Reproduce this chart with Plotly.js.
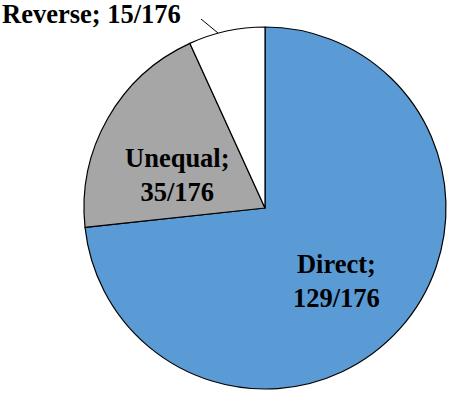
<!DOCTYPE html>
<html>
<head>
<meta charset="utf-8">
<script src="https://cdn.plot.ly/plotly-3.0.1.min.js"></script>
<style>html,body{margin:0;padding:0;background:#fff;}#chart{width:451px;height:394px;}</style>
</head>
<body>
<div id="chart"></div>
<script>
// Slice sizes as drawn in the picture (the wedges sum to 176)
const labels = ["Direct", "Unequal", "Reverse"];
const values = [129, 35, 12];
// Counts as printed in the labels of the picture
const labelCounts = ["129", "35", "15"];
const total = "176";
const colors = ["#5B9BD5", "#A6A6A6", "#FFFFFF"];

const W = 451, H = 394;
const px = x => x / W;
const py = y => 1 - y / H;

const font = {family: "Liberation Serif, Times New Roman, serif", size: 26.5, color: "#000", weight: 700};
const txt = i => labels[i] + ";<br>" + labelCounts[i] + "/" + total;

const trace = {
  type: "pie",
  labels: labels,
  values: values,
  marker: {colors: colors, line: {color: "#000", width: 1.2}},
  sort: false,
  direction: "clockwise",
  rotation: 0,
  textinfo: "none",
  hoverinfo: "none",
  showlegend: false,
  domain: {x: [px(84), px(446)], y: [py(389), py(27)]}
};

const layout = {
  width: W, height: H,
  margin: {l: 0, r: 0, t: 0, b: 0},
  paper_bgcolor: "#fff",
  showlegend: false,
  annotations: [
    {xref: "paper", yref: "paper", x: px(336), y: py(281), text: txt(0), showarrow: false, font: font, xanchor: "center", yanchor: "middle"},
    {xref: "paper", yref: "paper", x: px(177), y: py(175), text: txt(1), showarrow: false, font: font, xanchor: "center", yanchor: "middle"},
    {xref: "paper", yref: "paper", x: px(0), y: py(14), text: labels[2] + "; " + labelCounts[2] + "/" + total, showarrow: false, font: font, xanchor: "left", yanchor: "middle"}
  ],
  shapes: [
    {type: "line", xref: "paper", yref: "paper", x0: px(201), y0: py(19), x1: px(218), y1: py(33), line: {color: "#000", width: 1}}
  ]
};

Plotly.newPlot("chart", [trace], layout, {displayModeBar: false, staticPlot: true});
</script>
</body>
</html>
